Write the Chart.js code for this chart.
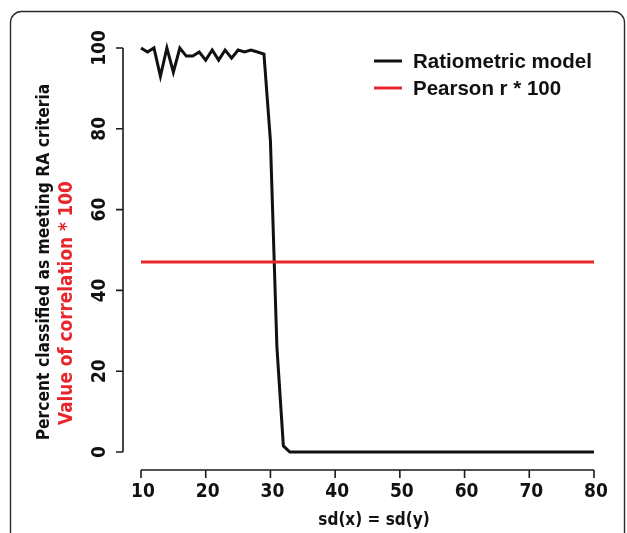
<!DOCTYPE html>
<html>
<head>
<meta charset="utf-8">
<script src="https://cdn.jsdelivr.net/npm/chart.js@4/dist/chart.umd.min.js"></script>
<style>
html,body{margin:0;padding:0;background:#fff;}
#wrap{width:627px;height:533px;position:relative;}
</style>
</head>
<body>
<div id="wrap"><canvas id="c" width="627" height="533"></canvas></div>
<script>
// ---- data ----
const sdValues = [10,11,12,13,14,15,16,17,18,19,20,21,22,23,24,25,26,27,28,29,30,31,32,33,34,35,36,37,38,39,40,41,42,43,44,45,46,47,48,49,50,51,52,53,54,55,56,57,58,59,60,61,62,63,64,65,66,67,68,69,70,71,72,73,74,75,76,77,78,79,80];
const ratiometric = [100,99,100,93,100,94,100,98,98,99,97,99.5,97,99.5,97.5,99.5,99,99.5,99,98.5,77,26,1.5,0,0,0,0,0,0,0,0,0,0,0,0,0,0,0,0,0,0,0,0,0,0,0,0,0,0,0,0,0,0,0,0,0,0,0,0,0,0,0,0,0,0,0,0,0,0,0,0];
const pearsonX = [10, 80];
const pearsonY = [47, 47];
const xTicks = [10,20,30,40,50,60,70,80];
const yTicks = [0,20,40,60,80,100];
const seriesNames = ['Ratiometric model', 'Pearson r * 100'];
const xTitle = 'sd(x) = sd(y)';
const yTitle1 = 'Percent classified as meeting RA criteria';
const yTitle2 = 'Value of correlation * 100';

const BLACK = '#111111';
const RED = '#e8262b';
const condFont = '"Liberation Sans Narrow","DejaVu Sans Condensed","DejaVu Sans",sans-serif';

const decor = {
  id: 'decor',
  beforeDraw(chart) {
    const ctx = chart.ctx;
    ctx.save();
    ctx.fillStyle = '#fff';
    ctx.fillRect(0, 0, chart.width, chart.height);
    // card border
    ctx.strokeStyle = '#2a2a2a';
    ctx.lineWidth = 1.4;
    const l = 10.5, t = 11.5, r = 624.5, b = 560, rad = 11;
    ctx.beginPath();
    ctx.moveTo(l, b);
    ctx.lineTo(l, t + rad);
    ctx.arcTo(l, t, l + rad, t, rad);
    ctx.lineTo(r - rad, t);
    ctx.arcTo(r, t, r, t + rad, rad);
    ctx.lineTo(r, b);
    ctx.stroke();
    ctx.restore();
  },
  afterDraw(chart) {
    const ctx = chart.ctx;
    const xs = chart.scales.x, ys = chart.scales.y;
    ctx.save();
    ctx.strokeStyle = '#1a1a1a';
    ctx.lineWidth = 1.6;
    ctx.fillStyle = '#111';
    // y axis
    const yAxisX = 123;
    ctx.beginPath();
    ctx.moveTo(yAxisX, ys.getPixelForValue(yTicks[0]));
    ctx.lineTo(yAxisX, ys.getPixelForValue(yTicks[yTicks.length - 1]));
    yTicks.forEach(v => {
      const p = ys.getPixelForValue(v);
      ctx.moveTo(yAxisX, p);
      ctx.lineTo(yAxisX - 7, p);
    });
    ctx.stroke();
    ctx.font = 'bold 19px ' + condFont;
    ctx.textAlign = 'center';
    ctx.textBaseline = 'middle';
    yTicks.forEach(v => {
      const p = ys.getPixelForValue(v);
      ctx.save();
      ctx.translate(100, p);
      ctx.rotate(-Math.PI / 2);
      ctx.fillText(String(v), 0, 0);
      ctx.restore();
    });
    // x axis
    const xAxisY = 470;
    ctx.beginPath();
    ctx.moveTo(xs.getPixelForValue(xTicks[0]), xAxisY);
    ctx.lineTo(xs.getPixelForValue(xTicks[xTicks.length - 1]), xAxisY);
    xTicks.forEach(v => {
      const p = xs.getPixelForValue(v);
      ctx.moveTo(p, xAxisY);
      ctx.lineTo(p, xAxisY + 8);
    });
    ctx.stroke();
    xTicks.forEach(v => {
      ctx.fillText(String(v), xs.getPixelForValue(v) + 2, 492);
    });
    // x title
    ctx.font = 'bold 17px ' + condFont;
    ctx.fillText(xTitle, 374, 521);
    // y titles
    ctx.save();
    ctx.translate(45, 262);
    ctx.rotate(-Math.PI / 2);
    ctx.fillStyle = '#111';
    ctx.font = 'bold 17.3px ' + condFont;
    ctx.fillText(yTitle1, 0, 0);
    ctx.restore();
    ctx.save();
    ctx.translate(67, 303);
    ctx.rotate(-Math.PI / 2);
    ctx.fillStyle = RED;
    ctx.font = 'bold 18.8px ' + condFont;
    ctx.fillText(yTitle2, 0, 0);
    ctx.restore();
    // legend
    const legY = [61, 88];
    const legCol = [BLACK, RED];
    ctx.lineWidth = 3;
    ctx.font = 'bold 20.5px "Liberation Sans", Arial, sans-serif';
    ctx.textAlign = 'left';
    for (let i = 0; i < 2; i++) {
      ctx.strokeStyle = legCol[i];
      ctx.beginPath();
      ctx.moveTo(374, legY[i]);
      ctx.lineTo(402, legY[i]);
      ctx.stroke();
      ctx.fillStyle = '#111';
      ctx.fillText(seriesNames[i], 413, legY[i] + 1);
    }
    ctx.restore();
  }
};

new Chart(document.getElementById('c'), {
  type: 'line',
  data: {
    datasets: [
      {
        label: seriesNames[0],
        data: sdValues.map((x, i) => ({x: x, y: ratiometric[i]})),
        borderColor: BLACK,
        borderWidth: 3,
        pointRadius: 0,
        tension: 0,
        clip: false,
        order: 1
      },
      {
        label: seriesNames[1],
        data: pearsonX.map((x, i) => ({x: x, y: pearsonY[i]})),
        borderColor: RED,
        borderWidth: 3,
        pointRadius: 0,
        tension: 0,
        clip: false,
        order: 0
      }
    ]
  },
  options: {
    responsive: false,
    animation: false,
    devicePixelRatio: 1,
    layout: { padding: { left: 141, right: 33, top: 48, bottom: 81 } },
    plugins: { legend: { display: false }, tooltip: { enabled: false } },
    scales: {
      x: { type: 'linear', min: 10, max: 80, display: false },
      y: { type: 'linear', min: 0, max: 100, display: false }
    }
  },
  plugins: [decor]
});
</script>
</body>
</html>
